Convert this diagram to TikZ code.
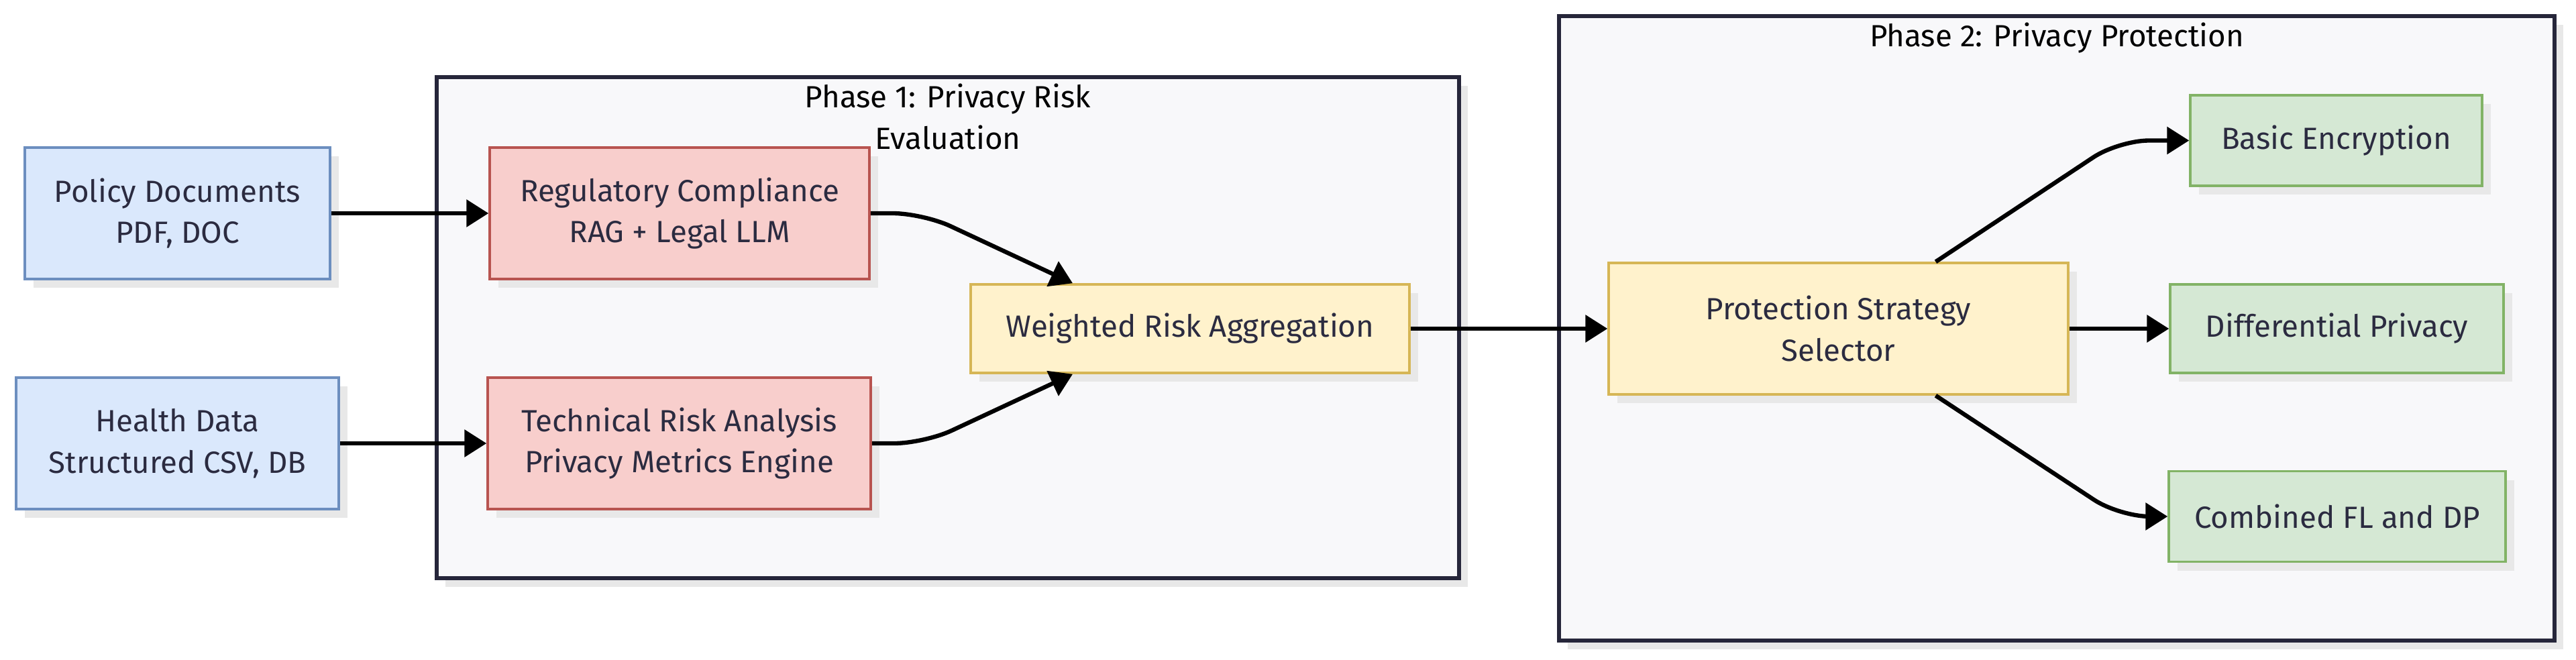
\documentclass[tikz,border=0pt]{standalone}
\usepackage{fontspec}
\setmainfont{Fira Sans}
\usetikzlibrary{shadows, arrows.meta, positioning}
\definecolor{inb}{HTML}{DAE8FC}
\definecolor{inbd}{HTML}{6C8EBF}
\definecolor{evr}{HTML}{F8CECC}
\definecolor{evrd}{HTML}{B85450}
\definecolor{agg}{HTML}{FFF2CC}
\definecolor{aggd}{HTML}{D6B656}
\definecolor{prt}{HTML}{D5E8D4}
\definecolor{prtd}{HTML}{82B366}
\definecolor{phf}{HTML}{F8F8FA}
\definecolor{phd}{HTML}{26263A}
\definecolor{txt}{HTML}{2B2B40}
\tikzset{
  shd/.style={drop shadow={shadow xshift=1.3mm, shadow yshift=-1.3mm, fill=black!9, opacity=1}},
  box/.style 2 args={rectangle, draw=#1, fill=#2, line width=1pt, shd, font=\fontsize{13}{17.5}\selectfont,
             text=txt, align=center, inner sep=2pt, minimum height=1.96cm},
  phase/.style={rectangle, draw=phd, fill=phf, line width=1.6pt, shd},
  ptitle/.style={font=\fontsize{13}{17.5}\selectfont, text=black, align=center, inner sep=2pt},
  arr/.style={-{Triangle[length=3.3mm, width=4mm]}, line width=1.8pt, draw=black},
}

\begin{document}
\begin{tikzpicture}
  \useasboundingbox (0,0) rectangle (38.4,9.83);
  % phase containers
  \node[phase, minimum width=15.24cm, minimum height=7.47cm] (ph1) at (14.13,4.945) {};
  \node[phase, minimum width=14.84cm, minimum height=9.31cm] (ph2) at (30.66,4.935) {};
  \node[ptitle, anchor=north] (ph1t) at ([yshift=-0.05cm]ph1.north) {Phase 1: Privacy Risk\\Evaluation};
  \node[ptitle, anchor=north] (ph2t) at ([yshift=-0.05cm]ph2.north) {Phase 2: Privacy Protection};
  % inputs
  \node[box={inbd}{inb}, minimum width=4.55cm] (pol) at (2.645,6.65) {Policy Documents\\PDF, DOC};
  \node[box={inbd}{inb}, minimum width=4.81cm] (hd) at (2.645,3.22) {Health Data\\Structured CSV, DB};
  % phase 1
  \node[box={evrd}{evr}, minimum width=5.66cm] (reg) at (10.13,6.65) {Regulatory Compliance\\RAG + Legal LLM};
  \node[box={evrd}{evr}, minimum width=5.71cm] (tech) at (10.125,3.22) {Technical Risk Analysis\\Privacy Metrics Engine};
  \node[box={aggd}{agg}, minimum width=6.54cm, minimum height=1.32cm] (wra) at (17.74,4.93) {Weighted Risk Aggregation};
  % phase 2
  \node[box={aggd}{agg}, minimum width=6.85cm] (pss) at (27.405,4.93) {Protection Strategy\\Selector};
  \node[box={prtd}{prt}, minimum width=4.35cm, minimum height=1.35cm] (enc) at (34.825,7.735) {Basic Encryption};
  \node[box={prtd}{prt}, minimum width=4.97cm, minimum height=1.32cm] (dp) at (34.835,4.93) {Differential Privacy};
  \node[box={prtd}{prt}, minimum width=5.02cm, minimum height=1.35cm] (fldp) at (34.84,2.13) {Combined FL and DP};
  % connectors
  \draw[arr] (pol) -- (reg);
  \draw[arr] (hd) -- (tech);
  \draw[arr, rounded corners=0.45cm] (reg.east) -- ([xshift=0.78cm]reg.east) -- ([xshift=-1.75cm]wra.north);
  \draw[arr, rounded corners=0.45cm] (tech.east) -- ([xshift=0.78cm]tech.east) -- ([xshift=-1.75cm]wra.south);
  \draw[arr] (wra) -- (pss);
  \draw[arr, rounded corners=0.45cm] ([xshift=1.45cm]pss.north) -- ([xshift=-1.05cm]enc.west) -- (enc.west);
  \draw[arr] (pss) -- (dp);
  \draw[arr, rounded corners=0.45cm] ([xshift=1.45cm]pss.south) -- ([xshift=-0.72cm]fldp.west) -- (fldp.west);
\end{tikzpicture}
\end{document}
